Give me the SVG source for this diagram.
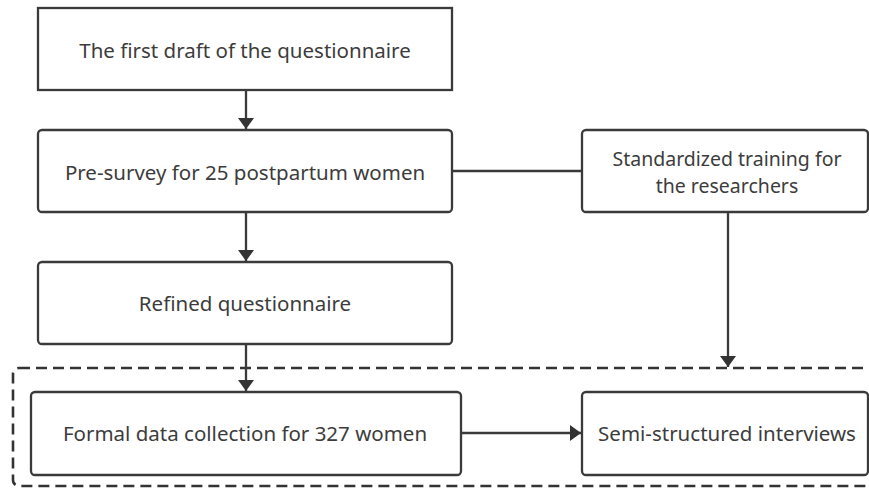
<svg xmlns="http://www.w3.org/2000/svg" width="869" height="490" viewBox="0 0 869 490">
<defs>
<style>
.box{fill:#fff;stroke:#3a3a3a;stroke-width:2.3}
.t{font-family:"Noto Sans","Open Sans",sans-serif;font-size:20.5px;fill:#3c3c3c;text-anchor:middle;dominant-baseline:central}
.t2{font-size:19.5px}
.ln{stroke:#3a3a3a;stroke-width:2.3;fill:none}
.dash{fill:none;stroke:#333;stroke-width:2.6;stroke-dasharray:11 6}
</style>
<marker id="ah" viewBox="0 0 11 16" refX="11" refY="8" markerWidth="11" markerHeight="16" markerUnits="userSpaceOnUse" orient="auto">
<path d="M0,0 L11,8 L0,16 Z" fill="#333"/>
</marker>
</defs>
<rect width="869" height="490" fill="#fff"/>
<g id="container">
<rect class="dash" x="13" y="368" width="866" height="118" rx="6"/>
</g>
<g id="n1">
<rect class="box" x="38" y="8" width="414" height="82"/>
<text class="t" x="245" y="50">The first draft of the questionnaire</text>
</g>
<g id="n2">
<rect class="box" x="38" y="130" width="414" height="82" rx="4"/>
<text class="t" x="245" y="172">Pre-survey for 25 postpartum women</text>
</g>
<g id="n3">
<rect class="box" x="38" y="262" width="414" height="82" rx="4"/>
<text class="t" x="245" y="303">Refined questionnaire</text>
</g>
<g id="n4">
<rect class="box" x="582" y="130" width="286" height="82" rx="4"/>
<text class="t t2" x="727" y="158">Standardized training for</text>
<text class="t t2" x="727" y="185">the researchers</text>
</g>
<g id="n5">
<rect class="box" x="31" y="392" width="430" height="83" rx="4"/>
<text class="t" x="245" y="433">Formal data collection for 327 women</text>
</g>
<g id="n6">
<rect class="box" x="582" y="392" width="286" height="83" rx="4"/>
<text class="t" x="727" y="433">Semi-structured interviews</text>
</g>
<g id="connectors">
<line class="ln" x1="246" y1="90" x2="246" y2="129" marker-end="url(#ah)"/>
<line class="ln" x1="246" y1="212" x2="246" y2="261" marker-end="url(#ah)"/>
<line class="ln" x1="246" y1="344" x2="246" y2="391" marker-end="url(#ah)"/>
<line class="ln" x1="452" y1="171" x2="582" y2="171"/>
<line class="ln" x1="728" y1="212" x2="728" y2="367" marker-end="url(#ah)"/>
<line class="ln" x1="461" y1="433" x2="581" y2="433" marker-end="url(#ah)"/>
</g>
</svg>
